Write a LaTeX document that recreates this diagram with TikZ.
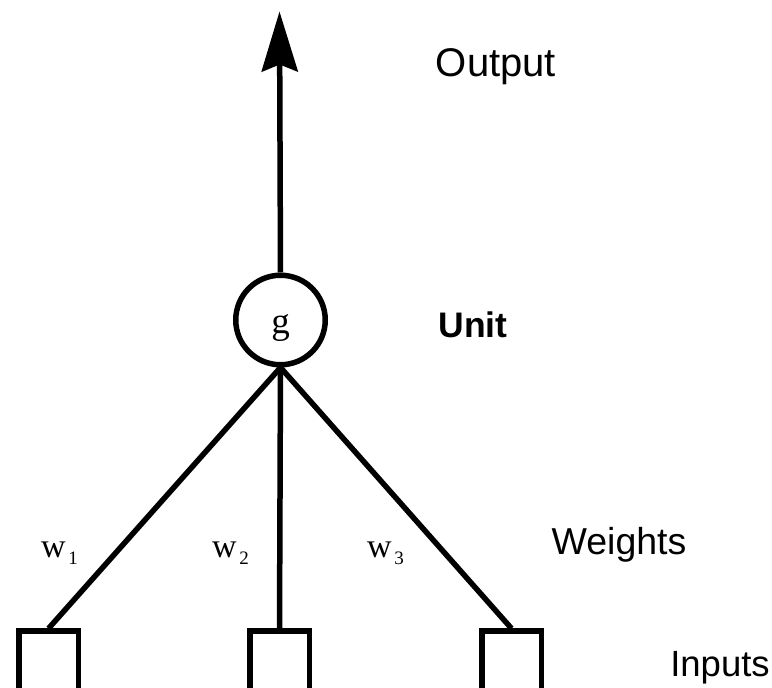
\documentclass[tikz,border=0pt]{standalone}
\usepackage{fontspec}
\setmainfont{Liberation Sans}
\newfontfamily\serifw{Liberation Serif}
\usetikzlibrary{arrows.meta}
\newcommand{\wsub}[1]{w\hspace{2.5pt}\raisebox{-7pt}{\fontsize{19}{19}\selectfont #1}}
\begin{document}
\begin{tikzpicture}[x=1pt,y=1pt,
  lw/.style={line width=5.5pt},
  unitc/.style={circle,draw,lw,minimum size=89.5pt,inner sep=0pt},
  inbox/.style={rectangle,draw,lw,minimum width=59.5pt,minimum height=90pt,anchor=north,inner sep=0pt},
  lbl/.style={inner sep=0pt,anchor=base},
  wl/.style={font=\serifw\fontsize{34}{34}\selectfont,inner sep=0pt,anchor=base west}]
\useasboundingbox (0,0) rectangle (772,688);
\clip (0,0) rectangle (772,688);
\node[unitc] (g) at (280.5,368) {};
\node[font=\serifw\fontsize{37}{37}\selectfont,inner sep=0pt,anchor=base] (gl) at ([yshift=-14pt]g.center) {g};
\coordinate (top) at (279.5,676.5);
\node[inbox] (b1) at (48.5,59.5) {};
\node[inbox] (b2) at (279.5,59.5) {};
\node[inbox] (b3) at (511.5,59.5) {};
\draw[lw,-{Stealth[length=60pt,width=36pt,inset=7pt]}] (g.north) -- (top);
\draw[lw] (g.south) -- (b1.north);
\draw[lw] (g.south) -- (b2.north);
\draw[lw] (g.south) -- (b3.north);
\node[lbl,font=\fontsize{40}{40}\selectfont] (out) at (496,611) {Output};
\node[lbl,font=\fontsize{35.5}{35.5}\selectfont\bfseries] (unit) at (473,350) {Unit};
\node[lbl,font=\fontsize{37.5}{37.5}\selectfont] (wts) at (619,133) {Weights};
\node[lbl,font=\fontsize{36.5}{36.5}\selectfont] (inp) at (720,11) {Inputs};
\node[wl] (w1) at (41,130) {\wsub{1}};
\node[wl] (w2) at (212,130) {\wsub{2}};
\node[wl] (w3) at (367,130) {\wsub{3}};
\end{tikzpicture}
\end{document}
